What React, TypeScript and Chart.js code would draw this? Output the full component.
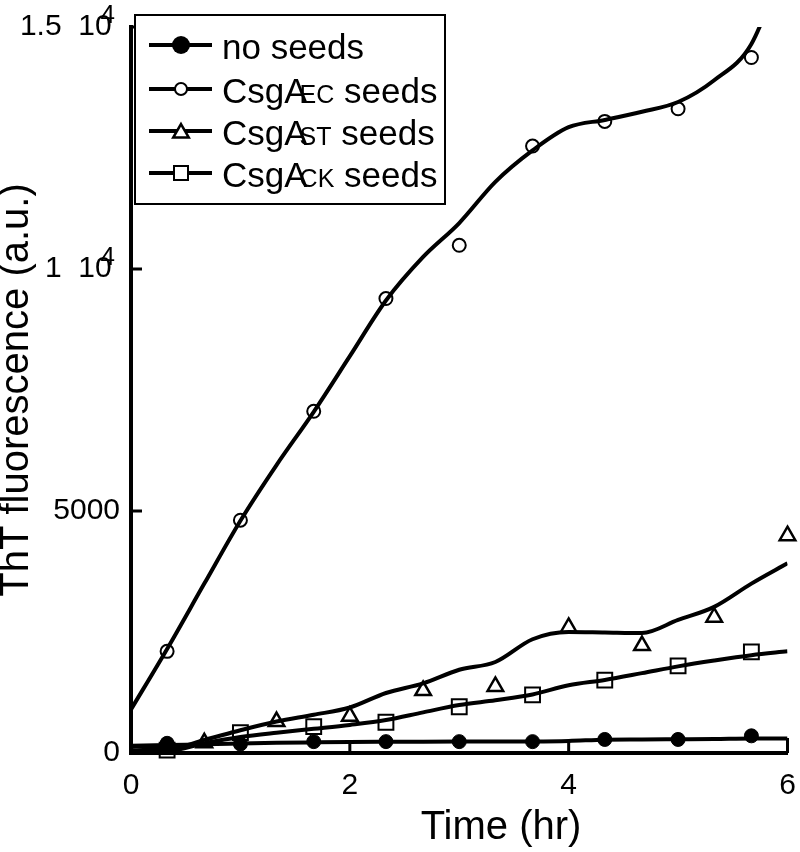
import React, { useEffect, useRef } from "react";
import { Chart, registerables } from "chart.js";

Chart.register(...registerables);

// ---- data ----
const sampleTimesA = [0.33, 1, 1.67, 2.33, 3, 3.67, 4.33, 5, 5.67]; // no seeds, EC, CK
const sampleTimesB = [0.67, 1.33, 2, 2.67, 3.33, 4, 4.67, 5.33, 6]; // ST
const fitTimes = [0, 0.33, 0.67, 1, 1.33, 1.67, 2, 2.33, 2.67, 3, 3.33, 3.67, 4, 4.33, 4.67, 5, 5.33, 5.67, 6];

const noSeedsValues = [200, 185, 235, 235, 235, 235, 280, 280, 355];
const ecSeedsValues = [2100, 4810, 7060, 9390, 10490, 12540, 13050, 13310, 14370];
const stSeedsValues = [210, 650, 760, 1290, 1375, 2595, 2220, 2805, 4490];
const ckSeedsValues = [60, 420, 545, 635, 955, 1200, 1505, 1800, 2090];

const noSeedsFit = [150, 165, 180, 195, 210, 220, 228, 232, 235, 237, 238, 240, 250, 275, 280, 285, 290, 300, 300];
const ecSeedsFit = [900, 2150, 3500, 4800, 5950, 7050, 8200, 9350, 10250, 10950, 11800, 12450, 12930, 13080, 13250, 13450, 13900, 14650, 16500];
const stSeedsFit = [150, 80, 270, 470, 650, 790, 940, 1240, 1440, 1720, 1880, 2350, 2500, 2490, 2480, 2750, 3020, 3500, 3920];
const ckSeedsFit = [60, 40, 200, 330, 420, 500, 580, 680, 840, 990, 1090, 1210, 1400, 1510, 1650, 1790, 1910, 2020, 2100];

const xTickValues = [0, 2, 4, 6];
const yTickValues = [0, 5000, 10000, 15000];
const yTickLabels = ["0", "5000", "1  10 ", "1.5  10 "];
const yTickExponents = ["", "", "4", "4"];

const xTitle = "Time (hr)";
const yTitle = "ThT fluorescence (a.u.)";

const legendMain = ["no seeds", "CsgA", "CsgA", "CsgA"];
const legendSub = ["", "EC", "ST", "CK"];
const legendTail = ["", " seeds", " seeds", " seeds"];
const legendStyles = ["filledCircle", "circle", "triangle", "rect"];

const FONT = "'Liberation Sans', Arial, Helvetica, sans-serif";

function pts(xs: number[], ys: number[]) {
  return xs.map((x, i) => ({ x, y: ys[i] }));
}

function drawMarker(ctx: CanvasRenderingContext2D, style: string, x: number, y: number) {
  ctx.save();
  ctx.strokeStyle = "#000";
  ctx.fillStyle = "#000";
  ctx.lineWidth = 2;
  ctx.beginPath();
  if (style === "filledCircle") {
    ctx.arc(x, y, 9, 0, Math.PI * 2);
    ctx.fill();
  } else if (style === "circle") {
    ctx.fillStyle = "#fff";
    ctx.arc(x, y, 6, 0, Math.PI * 2);
    ctx.fill();
    ctx.stroke();
  } else if (style === "triangle") {
    ctx.fillStyle = "#fff";
    const r = 9;
    const cy = y + 2;
    for (let k = 0; k < 3; k++) {
      const a = (k * 2 * Math.PI) / 3;
      const px = x + Math.sin(a) * r;
      const py = cy - Math.cos(a) * r;
      if (k === 0) ctx.moveTo(px, py);
      else ctx.lineTo(px, py);
    }
    ctx.closePath();
    ctx.fill();
    ctx.lineWidth = 2.5;
    ctx.stroke();
  } else {
    ctx.fillStyle = "#fff";
    ctx.rect(x - 7, y - 7, 14, 14);
    ctx.fill();
    ctx.stroke();
  }
  ctx.restore();
}

const decorPlugin = {
  id: "decor",
  beforeDraw(chart: any) {
    const { ctx, width, height } = chart;
    ctx.save();
    ctx.fillStyle = "#fff";
    ctx.fillRect(0, 0, width, height);
    ctx.restore();
  },
  afterDraw(chart: any) {
    const { ctx, chartArea: a, scales } = chart;
    const x = scales.x;
    const y = scales.y;
    ctx.save();
    ctx.strokeStyle = "#000";
    ctx.lineWidth = 3;
    // inward ticks
    xTickValues.forEach((v) => {
      if (v === 0) return;
      const px = x.getPixelForValue(v);
      ctx.beginPath();
      ctx.moveTo(px, a.bottom);
      ctx.lineTo(px, a.bottom - (v === 6 ? 15 : 11));
      ctx.stroke();
    });
    yTickValues.forEach((v) => {
      if (v === 0) return;
      const py = y.getPixelForValue(v);
      ctx.beginPath();
      ctx.moveTo(a.left, py);
      ctx.lineTo(a.left + (v === 15000 ? 7 : 11), py);
      ctx.stroke();
    });
    // exponents of tick labels
    ctx.fillStyle = "#000";
    ctx.font = `26px ${FONT}`;
    ctx.textAlign = "right";
    ctx.textBaseline = "top";
    yTickValues.forEach((v, i) => {
      if (!yTickExponents[i]) return;
      const py = y.getPixelForValue(v);
      ctx.fillText(yTickExponents[i], 115, py - 24);
    });
    // x title
    ctx.font = `40px ${FONT}`;
    ctx.textAlign = "center";
    ctx.textBaseline = "middle";
    ctx.fillText(xTitle, 501, 828);

    // legend
    const bx = 135, by = 15, bw = 310, bh = 189;
    ctx.fillStyle = "#fff";
    ctx.fillRect(bx, by, bw, bh);
    ctx.lineWidth = 2;
    ctx.strokeStyle = "#000";
    ctx.strokeRect(bx, by, bw, bh);
    const rows = [45, 89, 131, 173];
    legendMain.forEach((main, i) => {
      const cy = rows[i];
      ctx.lineWidth = 4;
      ctx.beginPath();
      ctx.moveTo(149, cy);
      ctx.lineTo(212, cy);
      ctx.stroke();
      drawMarker(ctx, legendStyles[i], 181, cy);
      ctx.fillStyle = "#000";
      ctx.textAlign = "left";
      ctx.textBaseline = "alphabetic";
      let tx = 222;
      const base = cy + 13.5;
      ctx.font = `35px ${FONT}`;
      ctx.fillText(main, tx, base);
      tx += ctx.measureText(main).width;
      if (legendSub[i]) {
        tx -= 8;
        ctx.font = `25px ${FONT}`;
        ctx.fillText(legendSub[i], tx, base);
        tx += ctx.measureText(legendSub[i]).width;
      }
      if (legendTail[i]) {
        ctx.font = `35px ${FONT}`;
        ctx.fillText(legendTail[i], tx, base);
      }
    });
    ctx.restore();
  },
};

export default function App() {
  const ref = useRef<HTMLCanvasElement>(null);
  useEffect(() => {
    const canvas = ref.current;
    if (!canvas) return;
    const fit = (data: number[]) => ({
      data: pts(fitTimes, data),
      showLine: true,
      pointRadius: 0,
      borderColor: "#000",
      borderWidth: 4,
      cubicInterpolationMode: "monotone" as const,
      fill: false,
    });
    const marks = (xs: number[], ys: number[], style: string, radius: number, filled: boolean, bw: number) => ({
      data: pts(xs, ys),
      showLine: false,
      pointStyle: style,
      pointRadius: radius,
      pointBorderWidth: bw,
      pointBorderColor: "#000",
      pointBackgroundColor: filled ? "#000" : "rgba(0,0,0,0)",
      borderColor: "#000",
      backgroundColor: filled ? "#000" : "rgba(0,0,0,0)",
      clip: false as const,
    });
    const chart = new Chart(canvas, {
      type: "scatter",
      data: {
        datasets: [
          marks(sampleTimesA, noSeedsValues, "circle", 7, true, 1),
          marks(sampleTimesA, ecSeedsValues, "circle", 6.5, false, 2),
          marks(sampleTimesB, stSeedsValues, "triangle", 9, false, 2.5),
          marks(sampleTimesA, ckSeedsValues, "rect", 10.5, false, 2),
          fit(noSeedsFit),
          fit(ecSeedsFit),
          fit(stSeedsFit),
          fit(ckSeedsFit),
        ] as any,
      },
      options: {
        animation: false,
        responsive: false,
        devicePixelRatio: 1,
        layout: { padding: { left: 0, top: 27, right: 10, bottom: 0 } },
        plugins: { legend: { display: false }, tooltip: { enabled: false } },
        scales: {
          x: {
            type: "linear",
            min: 0,
            max: 6,
            afterBuildTicks: (s: any) => {
              s.ticks = xTickValues.map((v) => ({ value: v }));
            },
            afterFit: (s: any) => {
              s.height = 99;
              s.paddingLeft = 0;
              s.paddingRight = 0;
              s.paddingTop = 0;
              s.paddingBottom = 0;
            },
            ticks: {
              color: "#000",
              font: { family: FONT, size: 30 },
              padding: 15,
              maxRotation: 0,
              callback: (v: any) => String(v),
            },
            grid: { display: false, drawTicks: false },
            border: { display: true, color: "#000", width: 4 },
          },
          y: {
            type: "linear",
            min: 0,
            max: 15000,
            afterBuildTicks: (s: any) => {
              s.ticks = yTickValues.map((v) => ({ value: v }));
            },
            afterFit: (s: any) => {
              s.width = 131;
              s.paddingLeft = 0;
              s.paddingRight = 0;
              s.paddingTop = 0;
              s.paddingBottom = 0;
            },
            ticks: {
              color: "#000",
              font: { family: FONT, size: 30 },
              padding: 11,
              callback: (v: any) => {
                const i = yTickValues.indexOf(Number(v));
                return i >= 0 ? yTickLabels[i] : "";
              },
            },
            grid: { display: false, drawTicks: false },
            border: { display: true, color: "#000", width: 4 },
            title: {
              display: true,
              text: yTitle,
              color: "#000",
              font: { family: FONT, size: 40, lineHeight: 0.85 },
              padding: 0,
            },
          },
        },
      },
      plugins: [decorPlugin],
    } as any);
    return () => chart.destroy();
  }, []);
  return (
    <div style={{ position: "absolute", left: 0, top: 0, width: 800, height: 852, background: "#fff" }}>
      <canvas ref={ref} width={800} height={852} style={{ display: "block" }} />
    </div>
  );
}
